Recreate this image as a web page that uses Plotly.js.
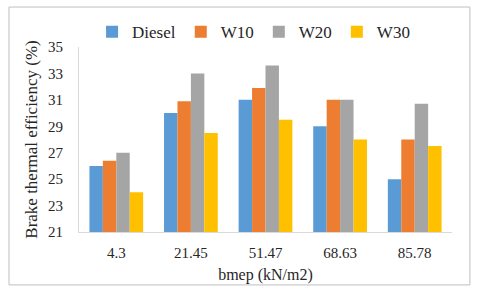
<!DOCTYPE html>
<html><head><meta charset="utf-8">
<script src="https://cdn.plot.ly/plotly-3.0.1.min.js"></script>
<style>html,body{margin:0;padding:0;background:#fff}#chart{width:480px;height:295px}</style>
</head><body><div id="chart"></div>
<script>
const categories = ["4.3", "21.45", "51.47", "68.63", "85.78"];
const seriesNames = ["Diesel", "W10", "W20", "W30"];
const diesel = [26, 30, 31, 29, 25];
const w10 = [26.4, 30.9, 31.9, 31, 28];
const w20 = [27, 33, 33.6, 31, 30.7];
const w30 = [24, 28.5, 29.5, 28, 27.5];
const colors = ["#5B9BD5", "#ED7D31", "#A5A5A5", "#FFC000"];
const yTicks = [21, 23, 25, 27, 29, 31, 33, 35];

const allVals = [diesel, w10, w20, w30];
const traces = allVals.map((v, i) => ({
  type: "bar", name: seriesNames[i], x: categories, y: v,
  marker: {color: colors[i]}
}));

const layout = {
  width: 480, height: 295,
  margin: {l: 79, r: 28, t: 47, b: 63},
  paper_bgcolor: "#fff", plot_bgcolor: "#fff",
  barmode: "group", bargap: 0.28, bargroupgap: 0,
  font: {family: "Liberation Serif", size: 15, color: "#262626"},
  showlegend: true,
  legend: {orientation: "h", x: 0.035, xanchor: "left", y: 1.08, yanchor: "middle",
    font: {family: "Liberation Serif", size: 17, color: "#262626"}, traceorder: "normal",
    bgcolor: "rgba(0,0,0,0)"},
  xaxis: {type: "category", showline: true, linecolor: "#d9d9d9", linewidth: 1,
    ticks: "", ticklabelstandoff: 7, tickfont: {family: "Liberation Serif", size: 15, color: "#262626"},
    title: {text: "bmep (kN/m2)", font: {family: "Liberation Serif", size: 16, color: "#262626"}, standoff: 8}},
  yaxis: {range: [21, 35], tickvals: yTicks, showgrid: false, zeroline: false,
    showline: true, linecolor: "#d9d9d9", linewidth: 1, ticks: "", ticklabelstandoff: 12,
    tickfont: {family: "Liberation Serif", size: 15, color: "#262626"},
    title: {text: "Brake thermal efficiency (%)", font: {family: "Liberation Serif", size: 17, color: "#262626"}, standoff: 6}},
  shapes: [{type: "rect", xref: "paper", yref: "paper", x0: -0.1877, x1: 1.048, y0: -0.286, y1: 1.216,
    line: {color: "#bfbfbf", width: 1}, fillcolor: "rgba(0,0,0,0)", layer: "below"}]
};
Plotly.newPlot("chart", traces, layout, {displayModeBar: false, staticPlot: true});
</script></body></html>
